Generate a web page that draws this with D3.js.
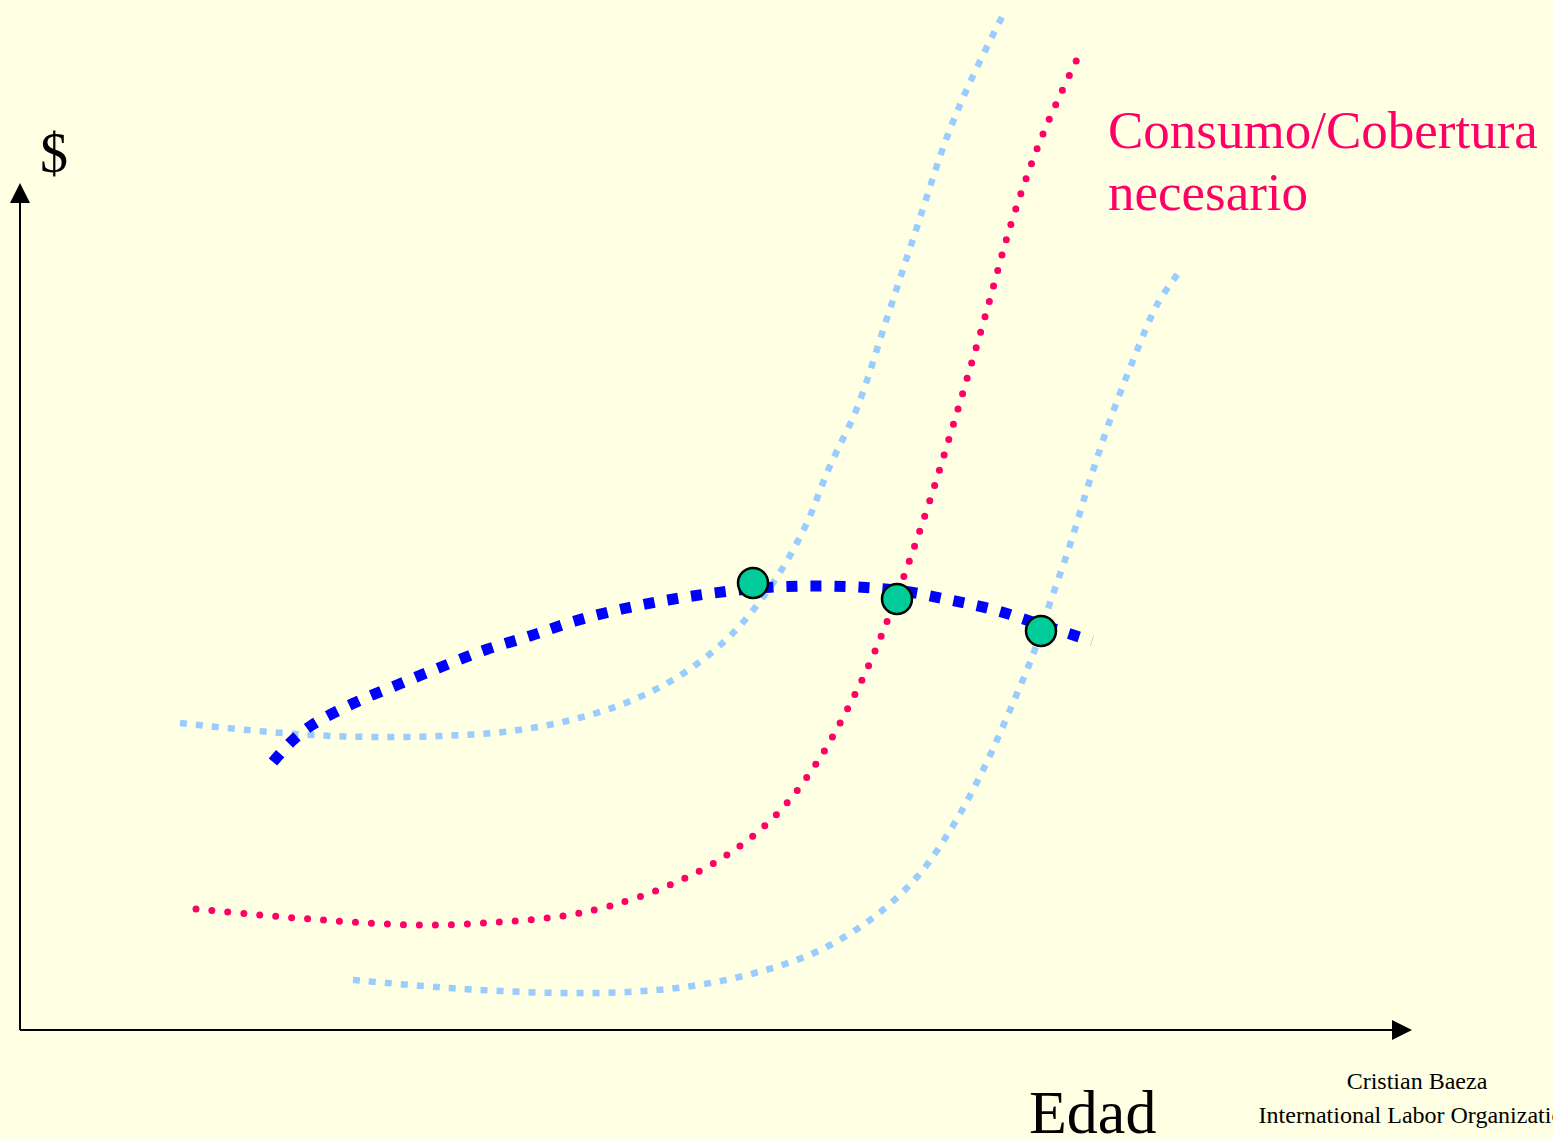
<!DOCTYPE html>
<html>
<head>
<meta charset="utf-8">
<script src="https://cdn.jsdelivr.net/npm/d3@7"></script>
<style>
  html, body { margin: 0; padding: 0; background: #FFFFE3; overflow: hidden; }
  svg { display: block; }
</style>
</head>
<body>
<svg id="chart" width="1553" height="1139"></svg>
<script>
// ---- Data (arbitrary units: age on x, $ on y) ----
const coverageHigh = [ // light blue (upper)
  [16.0,30.7],[22.7,30.0],[29.2,29.5],[35.5,29.3],[42.0,29.4],[48.3,29.8],[54.7,30.9],
  [60.8,32.8],[66.4,35.7],[71.3,39.7],[75.3,44.7],[78.5,50.3],[80.9,56.2],[83.7,62.2],
  [86.7,71.2],[89.7,80.3],[92.7,89.3],[95.2,95.2],[98.3,101.5]
];
const consumoNecesario = [ // pink dotted
  [17.6,12.1],[24.0,11.5],[30.3,11.0],[36.7,10.6],[41.6,10.5],[48.0,10.8],[54.3,11.4],
  [59.0,12.4],[65.0,14.5],[70.7,17.5],[75.7,21.6],[79.6,26.6],[82.8,32.2],[85.5,37.9],
  [88.4,45.4],[91.0,53.0],[93.8,62.1],[96.5,71.3],[99.1,80.6],[101.7,88.1],[103.6,92.6],[106.3,98.3]
];
const coverageLow = [ // light blue (lower)
  [33.3,5.0],[41.6,4.3],[48.0,3.9],[54.5,3.7],[60.8,3.8],[67.2,4.4],[73.5,5.7],[79.6,7.8],
  [85.0,11.0],[89.7,15.3],[93.4,20.6],[96.4,26.2],[99.0,32.0],[101.4,37.8],[103.0,42.7],
  [105.0,48.5],[106.9,54.7],[108.9,60.7],[111.2,66.7],[113.8,72.7],[116.0,75.9]
];
const ingreso = [ // blue dashed
  [25.3,26.8],[27.3,29.0],[29.2,30.5],[33.4,32.7],[37.7,34.5],[42.1,36.3],[46.5,38.0],
  [51.0,39.4],[55.5,40.9],[60.2,42.1],[64.8,43.0],[69.4,43.7],[74.0,44.2],[78.8,44.4],
  [83.7,44.3],[88.3,43.9],[93.0,43.0],[97.5,42.0],[102.2,40.5],[107.2,38.9]
];
const retiroPoints = [[73.3,44.7],[87.7,43.1],[102.1,39.9]];

const yLabel = "$";
const xLabel = "Edad";
const curveLabel = ["Consumo/Cobertura", "necesario"];
const credits = ["Cristian Baeza", "International Labor Organization"];

// ---- Scales ----
const x = d3.scaleLinear().domain([0, 140]).range([20, 1420]);
const y = d3.scaleLinear().domain([0, 100]).range([1030, 30]);

const svg = d3.select("#chart");
svg.append("rect").attr("width", 1553).attr("height", 1139).attr("fill", "#FFFFE3");

// ---- Axes with arrows ----
const axisG = svg.append("g");
axisG.append("line")
  .attr("x1", x(0)).attr("y1", y(0)).attr("x2", x(0)).attr("y2", y(82.8))
  .attr("stroke", "#000").attr("stroke-width", 2);
axisG.append("path")
  .attr("d", `M${x(0)},${y(84.7)} L${x(0) - 10},${y(82.7)} L${x(0) + 10},${y(82.7)} Z`)
  .attr("fill", "#000");
axisG.append("line")
  .attr("x1", x(0)).attr("y1", y(0)).attr("x2", x(137.4)).attr("y2", y(0))
  .attr("stroke", "#000").attr("stroke-width", 2);
axisG.append("path")
  .attr("d", `M${x(139.2)},${y(0)} L${x(137.2)},${y(0) - 10} L${x(137.2)},${y(0) + 10} Z`)
  .attr("fill", "#000");

// ---- Lines ----
const line = d3.line()
  .x(d => x(d[0])).y(d => y(d[1]))
  .curve(d3.curveCatmullRom.alpha(0.5));

svg.append("path").datum(coverageHigh).attr("d", line)
  .attr("fill", "none").attr("stroke", "#99CCFF").attr("stroke-width", 6.5)
  .attr("stroke-dasharray", "7,9");
svg.append("path").datum(coverageLow).attr("d", line)
  .attr("fill", "none").attr("stroke", "#99CCFF").attr("stroke-width", 6.5)
  .attr("stroke-dasharray", "7,9");
svg.append("path").datum(consumoNecesario).attr("d", line)
  .attr("fill", "none").attr("stroke", "#FF0066").attr("stroke-width", 7)
  .attr("stroke-linecap", "round").attr("stroke-dasharray", "0,16");
svg.append("path").datum(ingreso).attr("d", line)
  .attr("fill", "none").attr("stroke", "#0000FF").attr("stroke-width", 11)
  .attr("stroke-dasharray", "11,13");

// ---- Intersection markers ----
svg.selectAll("circle.pt").data(retiroPoints).enter().append("circle")
  .attr("class", "pt")
  .attr("cx", d => x(d[0])).attr("cy", d => y(d[1])).attr("r", 15)
  .attr("fill", "#00CC99").attr("stroke", "#000").attr("stroke-width", 2.5);

// ---- Text ----
const serif = "'Liberation Serif', 'Times New Roman', serif";
svg.append("text").attr("x", 40).attr("y", 172)
  .attr("font-family", serif).attr("font-size", 56).attr("fill", "#000").text(yLabel);
svg.append("text").attr("x", 1029).attr("y", 1133)
  .attr("font-family", serif).attr("font-size", 62).attr("fill", "#000").text(xLabel);
svg.append("text").attr("font-family", serif).attr("font-size", 53).attr("fill", "#FF0066")
  .selectAll("tspan").data(curveLabel).enter().append("tspan")
  .attr("x", 1108).attr("y", (d, i) => 148 + i * 62).text(d => d);
svg.append("text").attr("font-family", serif).attr("font-size", 24).attr("fill", "#000")
  .attr("text-anchor", "middle")
  .selectAll("tspan").data(credits).enter().append("tspan")
  .attr("x", 1417).attr("y", (d, i) => 1089 + i * 34).text(d => d);
</script>
</body>
</html>
